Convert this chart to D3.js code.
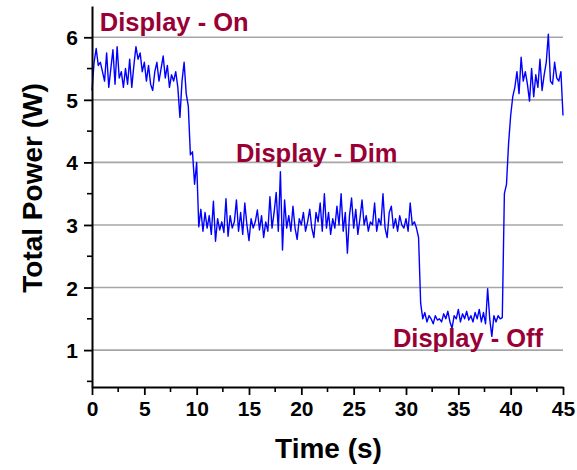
<!DOCTYPE html>
<html>
<head>
<meta charset="utf-8">
<script src="https://cdn.jsdelivr.net/npm/d3@7/dist/d3.min.js"></script>
<style>
  html, body { margin: 0; padding: 0; background: #ffffff; }
  svg text { font-family: "Liberation Sans", Arial, sans-serif; font-weight: bold; }
</style>
</head>
<body>
<svg id="chart" width="577" height="470"></svg>
<script>
// Power trace sampled every 0.2 s from t = 0 to t = 45 s
const sampleInterval = 0.2;
const powerOn = [
  5.15, 5.6, 5.82, 5.55, 5.6, 5.45, 5.3, 5.75, 5.2, 5.5,
  5.8, 5.25, 5.85, 5.35, 5.45, 5.2, 5.5, 5.25, 5.65, 5.2,
  5.55, 5.85, 5.65, 5.75, 5.45, 5.6, 5.3, 5.55, 5.25, 5.15,
  5.45, 5.6, 5.3, 5.5, 5.7, 5.35, 5.55, 5.2, 5.4, 5.3,
  5.45, 5.2
];
const powerFall = [4.72, 5.3, 5.6, 5.1, 4.9, 4.12, 4.17, 3.65, 4.0];
const powerDim = [
  2.97, 3.25, 2.9, 3.2, 2.95, 3.15, 2.85, 3.38, 2.74, 3.1,
  2.92, 3.05, 2.88, 3.42, 2.82, 3.15, 2.95, 3.05, 3.4, 2.9,
  3.2, 2.85, 3.35, 3.0, 2.75, 3.1, 2.95, 3.05, 3.24, 2.92,
  3.15, 2.8, 3.05, 2.9, 3.45, 2.95, 3.2, 3.52, 2.9, 3.85,
  2.6, 3.4, 2.95, 3.15, 2.9, 3.3, 2.95, 2.77, 3.1, 3.0,
  3.2, 2.9, 3.05, 3.25, 2.95, 2.8, 3.2, 3.05, 3.35, 2.9,
  3.5, 2.95, 3.2, 2.85, 3.1, 2.95, 3.3, 3.0, 3.5, 2.9,
  3.2, 2.55, 3.15, 3.43, 2.95, 3.25, 2.85, 3.1, 3.4, 3.0,
  3.15, 2.9, 3.05, 3.0, 3.35, 2.9, 3.1, 3.0, 3.5, 2.95,
  2.8, 3.2, 3.3, 2.95, 3.1, 2.9, 3.15, 3.0, 2.95, 3.1,
  2.9, 3.35, 3.0, 3.05, 2.95, 2.8
];
const powerOff = [
  1.75, 1.5, 1.6, 1.45, 1.55, 1.5, 1.42, 1.55, 1.48, 1.5,
  1.45, 1.58, 1.5, 1.62, 1.45, 1.35, 1.55, 1.5, 1.65, 1.45,
  1.58, 1.5, 1.62, 1.48, 1.55, 1.45, 1.6, 1.5, 1.65, 1.45,
  1.6, 1.42, 1.98, 1.5, 1.22, 1.55, 1.45, 1.55, 1.5, 1.52
];
const powerWake = [
  3.5, 3.65, 4.3, 4.75, 5.05, 5.2, 5.45, 5.1, 5.68, 5.3,
  5.45, 5.25, 4.98, 5.5, 5.05, 5.4, 5.2, 5.65, 5.15, 5.4,
  5.6, 6.05, 5.3, 5.25, 5.6, 5.35, 5.3, 5.45, 4.75
];

const xTicks = [0, 5, 10, 15, 20, 25, 30, 35, 40, 45];
const yTicks = [1, 2, 3, 4, 5, 6];
const annotations = [
  { text: "Display - On", t: 0.75, p: 6.1 },
  { text: "Display - Dim", t: 13.75, p: 4.0 },
  { text: "Display - Off", t: 28.75, p: 1.05 }
];

const samples = [...powerOn, ...powerFall, ...powerDim, ...powerOff, ...powerWake]
  .map((p, i) => ({ t: +(i * sampleInterval).toFixed(1), p }));

const svg = d3.select("#chart");
const plotLeft = 92, plotRight = 563, plotTop = 6, plotBottom = 387;

const x = d3.scaleLinear().domain([0, 45]).range([plotLeft, plotRight]);
const y = d3.scaleLinear().domain([0.41, 6.5]).range([plotBottom, plotTop]);

// horizontal grid
svg.append("g")
  .selectAll("line")
  .data(yTicks)
  .join("line")
  .attr("x1", plotLeft).attr("x2", plotRight)
  .attr("y1", d => y(d)).attr("y2", d => y(d))
  .attr("stroke", "#a6a6a6")
  .attr("stroke-width", 1.6);

// power trace
svg.append("path")
  .datum(samples)
  .attr("fill", "none")
  .attr("stroke", "#0000ff")
  .attr("stroke-width", 1.4)
  .attr("stroke-linejoin", "round")
  .attr("d", d3.line().x(d => x(d.t)).y(d => y(d.p)));

// minor ticks
const xMinor = d3.range(2.5, 45, 5);
const yMinor = d3.range(0.5, 6.5, 1);
svg.append("g").selectAll("line").data(xMinor).join("line")
  .attr("x1", d => x(d)).attr("x2", d => x(d))
  .attr("y1", plotBottom).attr("y2", plotBottom + 5)
  .attr("stroke", "#000").attr("stroke-width", 1.6);
svg.append("g").selectAll("line").data(yMinor).join("line")
  .attr("x1", plotLeft - 5).attr("x2", plotLeft)
  .attr("y1", d => y(d)).attr("y2", d => y(d))
  .attr("stroke", "#000").attr("stroke-width", 1.6);

// axes
const xAxis = svg.append("g")
  .attr("transform", `translate(0,${plotBottom})`)
  .call(d3.axisBottom(x).tickValues(xTicks).tickFormat(d3.format("d"))
    .tickSize(8).tickPadding(5).tickSizeOuter(0));
const yAxis = svg.append("g")
  .attr("transform", `translate(${plotLeft},0)`)
  .call(d3.axisLeft(y).tickValues(yTicks).tickFormat(d3.format("d"))
    .tickSize(8).tickPadding(6).tickSizeOuter(0));

[xAxis, yAxis].forEach(g => {
  g.select(".domain").attr("stroke", "#000").attr("stroke-width", 2);
  g.selectAll(".tick line").attr("stroke", "#000").attr("stroke-width", 1.8);
  g.selectAll(".tick text")
    .attr("fill", "#000")
    .style("font-family", '"Liberation Sans", Arial, sans-serif')
    .style("font-weight", "bold")
    .style("font-size", "21px");
});
xAxis.selectAll(".tick text").attr("dy", "0.75em");
yAxis.selectAll(".tick text").attr("dy", "0.36em");

// axis titles
svg.append("text")
  .attr("x", (plotLeft + plotRight) / 2 + 1)
  .attr("y", 458)
  .attr("text-anchor", "middle")
  .attr("font-size", "28px")
  .attr("fill", "#000")
  .text("Time (s)");

svg.append("text")
  .attr("transform", `translate(42,188) rotate(-90)`)
  .attr("text-anchor", "middle")
  .attr("font-size", "28px")
  .attr("fill", "#000")
  .text("Total Power (W)");

// state annotations
svg.append("g").selectAll("text").data(annotations).join("text")
  .attr("x", d => x(d.t))
  .attr("y", d => y(d.p))
  .attr("font-size", "25.5px")
  .attr("fill", "#990036")
  .text(d => d.text);
</script>
</body>
</html>
